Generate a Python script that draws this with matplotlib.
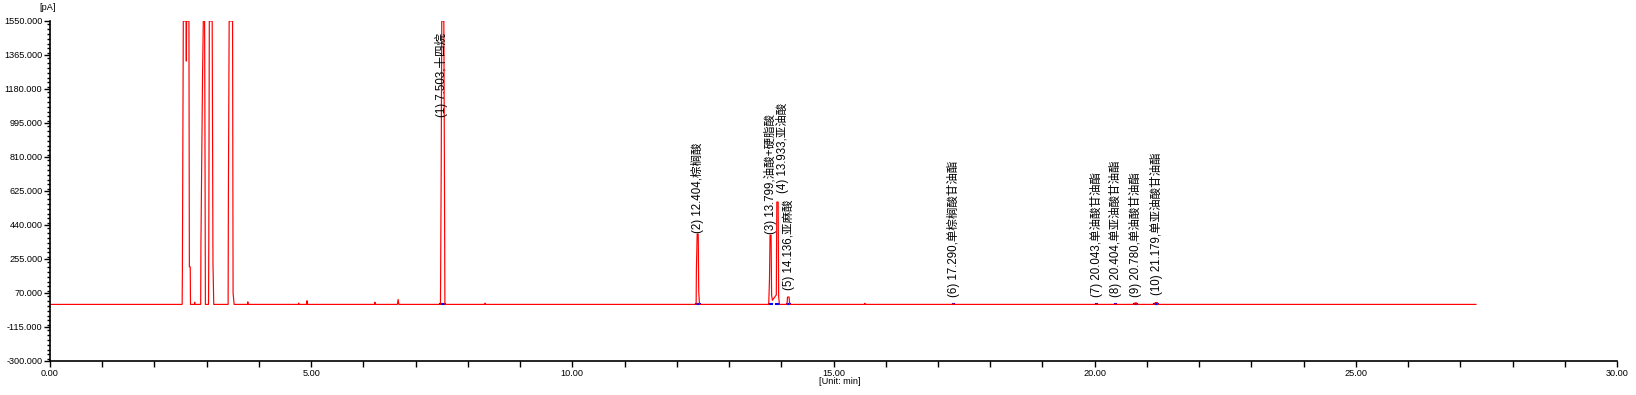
import numpy as np
import matplotlib
matplotlib.use('Agg')
import matplotlib.pyplot as plt
from matplotlib.ticker import MultipleLocator, FormatStrFormatter

plt.rcParams['font.family'] = ['Liberation Sans', 'Noto Sans CJK SC', 'DejaVu Sans']

# detector trace, vertices (time in min, signal in pA)
trace_t = [0.00, 2.530, 2.535, 2.552, 2.605, 2.610, 2.615, 2.660, 2.668, 2.685, 2.690,
           2.765, 2.770, 2.775,
           2.885, 2.890, 2.920, 2.935, 2.960, 2.965, 2.975,
           3.035, 3.040, 3.050, 3.105, 3.120, 3.135,
           3.410, 3.415, 3.430, 3.495, 3.505, 3.525,
           3.780, 3.787, 3.795, 4.755, 4.760, 4.770, 4.910, 4.920, 4.930,
           6.215, 6.220, 6.230, 6.650, 6.665, 6.680,
           7.475, 7.478, 7.490, 7.500, 7.540, 7.552, 7.560,
           8.325, 8.330, 8.340,
           12.370, 12.375, 12.390, 12.410, 12.420, 12.435,
           13.760, 13.775, 13.785, 13.805, 13.815, 13.830,
           13.905, 13.915, 13.940, 13.950, 13.965,
           14.110, 14.120, 14.150, 14.160,
           15.595, 15.600, 15.610, 17.285, 17.290, 17.300,
           20.035, 20.043, 20.050, 20.395, 20.404, 20.410,
           20.760, 20.770, 20.800, 20.810, 21.150, 21.160, 21.200, 21.210,
           27.30]
trace_pA = [8, 8, 212, 1550, 1550, 1332, 1550, 1550, 212, 212, 8,
            8, 20, 8,
            8, 348, 1240, 1550, 1550, 1120, 8,
            8, 342, 1550, 1550, 233, 8,
            8, 576, 1550, 1550, 70, 8,
            8, 22, 8, 8, 15, 8, 8, 28, 8,
            8, 20, 8, 8, 35, 8,
            8, 124, 777, 1550, 1550, 685, 8,
            8, 15, 8,
            8, 195, 391, 391, 76, 8,
            8, 150, 385, 385, 60, 30,
            60, 565, 565, 50, 8,
            8, 48, 48, 8,
            8, 14, 8, 8, 13, 8,
            8, 11, 8, 8, 11, 8,
            8, 16, 16, 8, 8, 18, 18, 8,
            8]

# integrated peaks
peak_rt = [7.503, 12.404, 13.799, 13.933, 14.136, 17.290, 20.043, 20.404, 20.780, 21.179]
peak_name = ['十四烷', '棕榈酸', '油酸+硬脂酸', '亚油酸', '亚麻酸', '单棕榈酸甘油酯',
             '单油酸甘油酯', '单亚油酸甘油酯', '单油酸甘油酯', '单亚油酸甘油酯']
peak_start = [7.475, 12.370, 13.760, 13.900, 14.110, 17.280, 20.035, 20.395, 20.755, 21.145]
peak_end = [7.560, 12.435, 13.830, 13.965, 14.160, 17.300, 20.050, 20.410, 20.815, 21.215]
label_x = [7.503, 12.404, 13.790, 14.025, 14.136, 17.290, 20.043, 20.404, 20.780, 21.179]
label_y = [1485, 395, 390, 614, 86, 50, 50, 50, 50, 59]

fig = plt.figure(figsize=(16.36, 3.95), dpi=100)
ax = fig.add_axes([50/1636, 34/395, 1567/1636, 340/395])

for s, e in zip(peak_start, peak_end):
    ax.plot([s, e], [8, 8], color='blue', lw=1.5, zorder=1)
ax.plot(trace_t, np.minimum(trace_pA, 1550), color='red', lw=0.85, zorder=2)

for i in range(len(peak_rt)):
    txt = f'({i+1}) {peak_rt[i]:.3f},{peak_name[i]}'
    va = 'top' if i == 0 else 'bottom'
    ax.text(label_x[i], label_y[i], txt, rotation=90, ha='center', va=va,
            fontsize=8.3, color='black', zorder=3)

ax.set_xlim(0, 30)
ax.set_ylim(-300, 1550)
ax.set_yticks(np.arange(-300, 1551, 185))
ax.yaxis.set_major_formatter(FormatStrFormatter('%.3f'))
ax.yaxis.set_minor_locator(MultipleLocator(185/7))
ax.xaxis.set_major_locator(MultipleLocator(5))
ax.xaxis.set_minor_locator(MultipleLocator(1))
ax.xaxis.set_major_formatter(FormatStrFormatter('%.2f'))
ax.tick_params(axis='both', which='major', labelsize=6.6, length=4, width=1, pad=1.5)
ax.tick_params(axis='y', which='minor', length=2.5, width=1)
ax.tick_params(axis='x', which='minor', length=4, width=1)
ax.spines['top'].set_visible(False)
ax.spines['right'].set_visible(False)
ax.spines['left'].set_linewidth(1.2)
ax.spines['bottom'].set_linewidth(1.2)

fig.text(48/1636, 1 - 7/395, '[pA]', fontsize=6.6, ha='center', va='center')
fig.text(840/1636, 1 - 382/395, '[Unit: min]', fontsize=6.6, ha='center', va='center')

fig.savefig('out.png', dpi=100)
